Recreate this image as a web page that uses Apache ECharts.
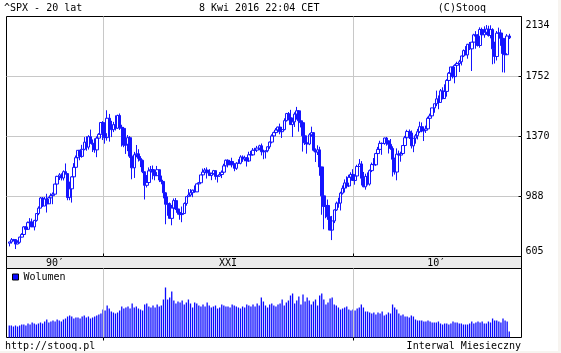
<!DOCTYPE html>
<html>
<head>
<meta charset="utf-8">
<script src="https://cdn.jsdelivr.net/npm/echarts@6.0.0/dist/echarts.min.js"></script>
<style>
html,body{margin:0;padding:0;background:#f7f4f0;}
#chart{width:558px;height:351px;background:#fff;}
</style>
</head>
<body>
<div id="chart"></div>
<script>
// ^SPX monthly, Apr 1996 .. Apr 2016 (index 0 = Apr 1996)
var firstOpen = 645.5;
var closes = [
    654.2,669.1,670.6,639.9,651.9,687.3,705.3,757.0,740.7,
    786.2,790.8,757.1,801.3,848.3,885.1,954.3,899.5,947.3,914.6,955.4,970.4,
    980.3,1049.3,1101.8,1111.8,1090.8,1133.8,1120.7,957.3,1017.0,1098.7,1163.6,1229.2,
    1279.6,1238.3,1286.4,1335.2,1301.8,1372.7,1328.7,1320.4,1282.7,1362.9,1388.9,1469.3,
    1394.5,1366.4,1498.6,1452.4,1420.6,1454.6,1430.8,1517.7,1436.5,1429.4,1315.0,1320.3,
    1366.0,1239.9,1160.3,1249.5,1255.8,1224.4,1211.2,1133.6,1040.9,1059.8,1139.5,1148.1,
    1130.2,1106.7,1147.4,1076.9,1067.1,989.8,911.6,916.1,815.3,885.8,936.3,879.8,
    855.7,841.2,848.2,916.9,963.6,974.5,990.3,1008.0,996.0,1050.7,1058.2,1111.9,
    1131.1,1144.9,1126.2,1107.3,1120.7,1140.8,1101.7,1104.2,1114.6,1130.2,1173.8,1211.9,
    1181.3,1203.6,1180.6,1156.9,1191.5,1191.3,1234.2,1220.3,1228.8,1207.0,1249.5,1248.3,
    1280.1,1280.7,1294.9,1310.6,1270.1,1270.2,1276.7,1303.8,1335.9,1377.9,1400.6,1418.3,
    1438.2,1406.8,1420.9,1482.4,1530.6,1503.4,1455.3,1474.0,1526.8,1549.4,1481.1,1468.4,
    1378.6,1330.6,1322.7,1385.6,1400.4,1280.0,1267.4,1282.8,1166.4,968.8,896.2,903.3,
    825.9,735.1,797.9,872.8,919.1,919.3,987.5,1020.6,1057.1,1036.2,1095.6,1115.1,
    1073.9,1104.5,1169.4,1186.7,1089.4,1030.7,1101.6,1049.3,1141.2,1183.3,1180.6,1257.6,
    1286.1,1327.2,1325.8,1363.6,1345.2,1320.6,1292.3,1218.9,1131.4,1253.3,1247.0,1257.6,
    1312.4,1365.7,1408.5,1397.9,1310.3,1362.2,1379.3,1406.6,1440.7,1412.2,1416.2,1426.2,
    1498.1,1514.7,1569.2,1597.6,1630.7,1606.3,1685.7,1633.0,1681.6,1756.5,1805.8,1848.4,
    1782.6,1859.5,1872.3,1884.0,1923.6,1960.2,1930.7,2003.4,1972.3,2018.1,2067.6,2058.9,
    1995.0,2104.5,2067.9,2085.5,2107.4,2063.1,2103.8,1972.2,1920.0,2079.4,2080.4,2043.9,
    1940.2,1932.2,2059.7,2047.6
];
var highs = [
    656,681,675,673,666,690,714,762,761,
    794,817,814,805,851,897,961,961,961,983,963,986,
    992,1051,1106,1124,1123,1143,1190,1122,1066,1103,1192,1244,
    1280,1282,1317,1370,1375,1383,1421,1354,1361,1375,1397,1473,
    1479,1445,1553,1528,1481,1474,1518,1523,1531,1454,1438,1390,
    1384,1377,1268,1269,1316,1287,1240,1217,1135,1111,1163,1173,
    1176,1131,1173,1148,1107,1070,994,965,924,907,951,954,
    935,864,896,924,965,1015,1015,1011,1040,1053,1063,1112,
    1155,1159,1163,1151,1128,1146,1141,1109,1131,1142,1188,1217,
    1218,1212,1229,1192,1199,1219,1246,1245,1243,1233,1270,1276,
    1295,1297,1310,1318,1326,1284,1280,1307,1340,1389,1407,1431,
    1441,1462,1438,1498,1535,1541,1556,1503,1539,1576,1553,1524,
    1471,1396,1359,1397,1441,1404,1293,1314,1304,1168,1007,919,
    944,876,832,877,930,956,997,1040,1081,1102,1113,1130,
    1151,1112,1181,1220,1206,1132,1120,1129,1149,1196,1227,1262,
    1303,1345,1333,1366,1371,1346,1357,1307,1230,1293,1278,1270,
    1315,1378,1420,1422,1415,1363,1392,1426,1475,1470,1434,1448,
    1509,1530,1570,1598,1687,1654,1698,1710,1730,1765,1814,1849,
    1851,1867,1884,1897,1925,1968,1991,2006,2019,2019,2075,2093,
    2072,2119,2117,2126,2134.7,2130,2133,2113,2021,2094,2117,2104,
    2044,1963,2073,2075
];
var lows = [
    624,643,658,605.9,639,643,685,700,716,
    737,773,756,733,793,837,884,893,898,855,914,926,
    912,980,1041,1077,1074,1074,1114,939,939,923,1098,1132,
    1205,1212,1229,1280,1277,1285,1325,1268,1263,1233,1332,1387,
    1350,1325,1346,1339,1370,1404,1415,1425,1419,1305,1301,1255,
    1274,1228,1082,1091,1232,1203,1165,1124,944,1026,1054,1115,
    1081,1075,1106,1063,1048,952,775,833,815,768,872,872,
    841,806,789,847,902,962,963,960,990,995,1031,1053,
    1106,1122,1087,1106,1076,1113,1079,1060,1099,1090,1128,1173,
    1163,1180,1163,1137,1146,1188,1184,1201,1205,1169,1201,1245,
    1245,1253,1268,1280,1245,1219,1224,1266,1290,1327,1361,1385,
    1403,1389,1364,1416,1476,1484,1453,1371,1439,1489,1407,1436,
    1271,1316,1257,1315,1373,1272,1200,1248,1106,840,741,816,
    805,735,667,783,866,888,869,978,992,1020,1029,1086,
    1071,1045,1101,1168,1040,1028,1011,1040,1039,1131,1173,1174,
    1257,1277,1249,1318,1311,1258,1283,1101,1114,1075,1159,1202,
    1257,1312,1341,1357,1292,1267,1325,1354,1397,1403,1343,1398,
    1426,1485,1501,1536,1581,1560,1605,1627,1633,1646,1747,1767,
    1770,1737,1834,1814,1859,1916,1930,1905,1964,1821,2001,1973,
    1988,1980,2039,2048,2067,2056,2044,1867,1872,1893,2019,1993,
    1812,1810,1931,2039
];
var volumes = [
    12,12,11,12,11,12,13,13,12,
    14,13,15,14,13,14,15,14,16,18,15,16,
    17,16,18,17,16,18,19,21,22,21,19,20,
    20,19,21,22,20,21,19,20,21,22,23,24,
    28,27,32,29,26,25,24,25,27,31,29,30,
    31,29,34,30,31,29,28,27,33,34,31,30,
    32,30,33,31,32,38,50,38,40,46,37,34,
    36,35,37,33,35,38,34,30,35,34,32,31,
    33,31,35,32,30,31,32,29,30,33,32,31,
    31,30,33,32,31,30,29,31,30,33,32,31,
    33,31,34,32,40,36,32,30,33,34,32,31,
    33,34,38,32,35,37,42,44,34,37,41,33,
    43,36,40,37,33,36,38,32,42,44,38,33,
    35,39,40,33,32,30,28,29,30,31,28,27,
    28,27,29,30,33,30,26,26,25,24,25,23,
    25,24,26,22,23,25,24,33,30,28,24,22,
    23,21,21,20,22,21,18,17,17,17,16,16,
    17,16,15,15,15,16,14,13,14,14,13,14,
    16,15,15,14,14,13,13,13,14,16,14,15,
    16,15,16,14,14,16,15,19,17,17,16,15,
    19,17,16,6
];
var priceLabels = ['605', '988', '1370', '1752', '2134'];
var periodLabels = ['90\u2032', 'XXI', '10\u2032'];

var opens = [firstOpen].concat(closes.slice(0, closes.length - 1));
var ohlc = closes.map(function (c, i) { return [i, opens[i], c, lows[i], highs[i]]; });
var vol = volumes.map(function (v, i) { return [i, v]; });

var mono = 'DejaVu Sans Mono';
var txt = { fontFamily: mono, fontSize: 10, fontWeight: 'normal', color: '#000' };
var blue = '#1414ff';
var gridGray = '#c8c8c8';
var xMin = -1.32, xMax = 245.88;

var chart = echarts.init(document.getElementById('chart'));
chart.setOption({
    animation: false,
    title: [
        { text: '^SPX - 20 lat', left: 4, top: 3, padding: 0, textStyle: txt },
        { text: '8 Kwi 2016 22:04 CET', left: 199, top: 3, padding: 0, textStyle: txt },
        { text: '(C)Stooq', right: 72, top: 3, padding: 0, textStyle: txt },
        { text: 'http://stooq.pl', left: 5, top: 341, padding: 0, textStyle: txt },
        { text: 'Interwal Miesieczny', right: 37, top: 341, padding: 0, textStyle: txt }
    ],
    legend: {
        data: ['Wolumen'],
        left: 12, top: 272, padding: 0,
        icon: 'rect', itemWidth: 6, itemHeight: 6,
        itemStyle: { borderColor: '#000', borderWidth: 1 },
        textStyle: { fontFamily: mono, fontSize: 10, color: '#000' }
    },
    grid: [
        { left: 6.5, right: 36.5, top: 16.5, height: 240, show: true, borderColor: '#000', borderWidth: 1, backgroundColor: '#fff' },
        { left: 6.5, right: 36.5, top: 256.5, height: 12, show: true, borderColor: '#000', borderWidth: 1, backgroundColor: '#ebebeb' },
        { left: 6.5, right: 36.5, top: 268.5, height: 69, show: true, borderColor: '#000', borderWidth: 1, backgroundColor: '#fff' }
    ],
    xAxis: [
        {
            type: 'value', gridIndex: 0, min: xMin, max: xMax, position: 'bottom',
            axisLine: { show: false },
            axisLabel: { show: false },
            axisTick: { show: true, inside: true, length: 3, customValues: [45, 165], lineStyle: { color: '#000' } },
            splitLine: { show: true, lineStyle: { color: gridGray, width: 1 } }
        },
        {
            type: 'value', gridIndex: 2, min: xMin, max: xMax, position: 'top', z: 10,
            axisLine: { show: false },
            axisTick: { show: true, inside: true, length: 3, customValues: [45, 165], lineStyle: { color: '#000' } },
            axisLabel: {
                show: true, margin: 0, customValues: [22, 105, 205],
                fontFamily: mono, fontSize: 10, color: '#000',
                formatter: function (v) {
                    return v < 45 ? periodLabels[0] : (v < 165 ? periodLabels[1] : periodLabels[2]);
                }
            },
            splitLine: { show: true, lineStyle: { color: gridGray, width: 1 } }
        }
    ],
    yAxis: [
        { type: 'value', gridIndex: 0, min: 555, max: 2193, show: false, splitLine: { show: false } },
        {
            type: 'value', gridIndex: 0, min: 0, max: 4, interval: 1, position: 'right',
            axisLine: { show: false },
            axisTick: { show: true, inside: true, length: 3, lineStyle: { color: '#000' } },
            axisLabel: {
                margin: 4, fontFamily: mono, fontSize: 10, color: '#000',
                verticalAlignMinLabel: 'bottom', verticalAlignMaxLabel: 'top',
                formatter: function (v) {
                    var i = Math.round(v);
                    return i === 4 ? '{mx|' + priceLabels[i] + '}' : priceLabels[i];
                },
                rich: { mx: { fontFamily: mono, fontSize: 10, color: '#000', padding: [4, 0, 0, 0] } }
            },
            splitLine: { show: true, showMinLine: false, showMaxLine: false, lineStyle: { color: gridGray, width: 1 } }
        },
        { type: 'value', gridIndex: 2, min: 0, max: 69, show: false, splitLine: { show: false } }
    ],
    series: [
        {
            name: '^SPX', type: 'candlestick',
            xAxisIndex: 0, yAxisIndex: 0,
            barWidth: 3,
            encode: { x: 0, y: [1, 2, 3, 4] },
            itemStyle: { color: 'transparent', color0: blue, borderColor: blue, borderColor0: blue, borderWidth: 1 },
            data: ohlc
        },
        {
            name: 'Wolumen', type: 'bar',
            xAxisIndex: 1, yAxisIndex: 2,
            barWidth: 1.3,
            itemStyle: { color: '#0a0aff' },
            data: vol
        }
    ]
});
</script>
</body>
</html>
